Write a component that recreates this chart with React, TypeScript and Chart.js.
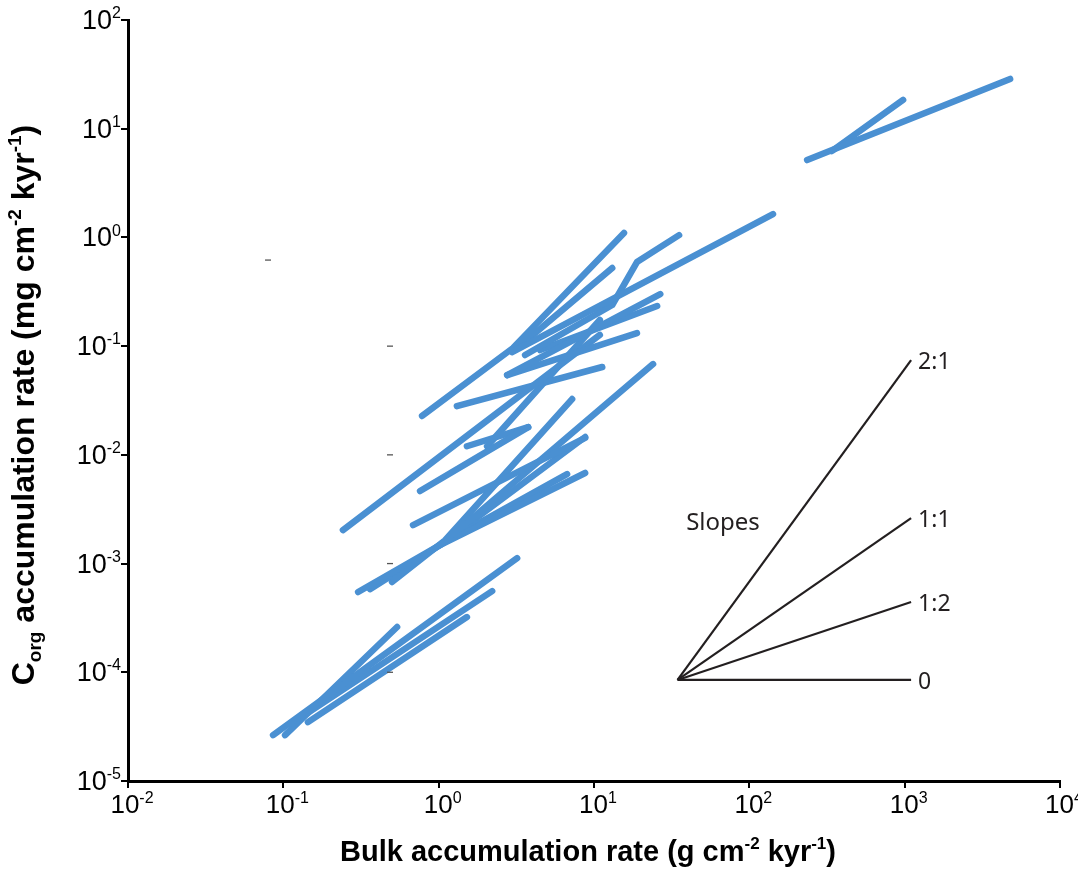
import React, { useEffect, useRef } from "react";
import { Chart, registerables } from "chart.js";

Chart.register(...registerables);

// ---- axis ticks ----
const xTickValues = [1e-2, 1e-1, 1, 10, 100, 1e3, 1e4];
const xTickExponents = ["-2", "-1", "0", "1", "2", "3", "4"];
const yTickValues = [1e-5, 1e-4, 1e-3, 1e-2, 1e-1, 1, 10, 100];
const yTickExponents = ["-5", "-4", "-3", "-2", "-1", "0", "1", "2"];

// ---- core records: bulk accumulation rate (g cm-2 kyr-1) per segment vertex ----
const segmentBulk: number[][] = [
  [235.5, 4775],
  [341, 977],
  [142, 2.97],
  [0.782, 3.01, 15.6],
  [35.3, 18.9, 13.1, 3.6],
  [13.1, 3.1],
  [26.7, 2.76],
  [25.5, 4.5],
  [18.9, 2.76],
  [0.242, 10.9],
  [1.31, 11.3],
  [0.684, 8.77],
  [0.759, 3.77],
  [1.07, 24.0],
  [0.501, 1.1, 7.23],
  [0.303, 1.02, 8.77],
  [0.361, 1.07, 6.71],
  [1.02, 8.77],
  [2.05, 10.9],
  [1.52, 3.77],
  [0.0859, 3.2],
  [0.1026, 0.54],
  [0.128, 2.21],
  [0.144, 1.52],
];

// ---- core records: Corg accumulation rate (mg cm-2 kyr-1) per segment vertex ----
const segmentCorg: number[][] = [
  [5.15, 28.7],
  [6.24, 18.4],
  [1.64, 0.0883],
  [0.0228, 0.0961, 1.1],
  [1.05, 0.594, 0.239, 0.0828],
  [0.523, 0.0921],
  [0.301, 0.0542],
  [0.234, 0.0921],
  [0.132, 0.0542],
  [0.00203, 0.127],
  [0.0281, 0.0643],
  [0.00226, 0.0143],
  [0.00465, 0.018],
  [0.00155, 0.0684],
  [0.000676, 0.00164, 0.0326],
  [0.000547, 0.00148, 0.00681],
  [0.000582, 0.00155, 0.00665],
  [0.00148, 0.0146],
  [0.012, 0.174],
  [0.012, 0.018],
  [2.64e-5, 0.00112],
  [2.64e-5, 0.000261],
  [3.79e-5, 0.000558],
  [3.48e-5, 0.000322],
];

// ---- slope key ----
const slopeNames = ["2:1", "1:1", "1:2", "0"];
const slopeOriginBulk = 34.5;
const slopeOriginCorg = 8.5e-5;
const slopeEndBulk = [1100, 1100, 1100, 1100];
const slopeEndCorg = [0.0745, 0.00262, 0.000443, 8.5e-5];
const slopeTitle = "Slopes";
const slopeTitleBulk = 39.2;
const slopeTitleCorg = 0.00246;

// ---- small stray dash marks ----
const dashBulk = [0.0797, 0.486, 0.486, 0.486, 0.486];
const dashCorg = [0.619, 0.1, 0.01, 0.001, 0.0001];

const BLUE = "#4A90D2";
const INK = "#231f20";

type Run = { t: string; k?: "sup" | "sub" };

function drawRich(
  ctx: CanvasRenderingContext2D,
  runs: Run[],
  x: number,
  y: number,
  o: { size: number; bold?: boolean; family: string; align: "left" | "center" | "right"; rotate?: boolean; stretch?: number; color?: string }
) {
  const fontFor = (k?: string) =>
    `${o.bold ? "bold " : ""}${k ? Math.round(o.size * 0.6) : o.size}px ${o.family}`;
  let total = 0;
  const widths = runs.map((r) => {
    ctx.font = fontFor(r.k);
    const w = ctx.measureText(r.t).width;
    total += w;
    return w;
  });
  ctx.save();
  ctx.translate(x, y);
  if (o.rotate) ctx.rotate(-Math.PI / 2);
  ctx.scale(o.stretch ?? 1, 1);
  ctx.fillStyle = o.color ?? "#000";
  ctx.textBaseline = "alphabetic";
  ctx.textAlign = "left";
  let cx = o.align === "center" ? -total / 2 : o.align === "right" ? -total : 0;
  runs.forEach((r, i) => {
    ctx.font = fontFor(r.k);
    const dy = r.k === "sup" ? -o.size * 0.4 : r.k === "sub" ? o.size * 0.22 : 0;
    ctx.fillText(r.t, cx, dy);
    cx += widths[i];
  });
  ctx.restore();
}

const textPlugin = {
  id: "richText",
  afterDraw(chart: any) {
    const ctx: CanvasRenderingContext2D = chart.ctx;
    const xs = chart.scales.x;
    const ys = chart.scales.y;
    const fam = "'Liberation Sans', Arial, sans-serif";
    // tick labels
    xTickValues.forEach((v, i) => {
      const px = xs.getPixelForValue(v);
      drawRich(ctx, [{ t: "10" }, { t: xTickExponents[i], k: "sup" }], px + 4, 813, {
        size: 26,
        family: fam,
        align: "center",
      });
    });
    yTickValues.forEach((v, i) => {
      const py = ys.getPixelForValue(v);
      drawRich(ctx, [{ t: "10" }, { t: yTickExponents[i], k: "sup" }], 121, py + 9, {
        size: 27,
        family: fam,
        align: "right",
      });
    });
    // axis titles
    drawRich(
      ctx,
      [
        { t: "Bulk accumulation rate (g cm" },
        { t: "-2", k: "sup" },
        { t: " kyr" },
        { t: "-1", k: "sup" },
        { t: ")" },
      ],
      588,
      861,
      { size: 29, bold: true, family: fam, align: "center" }
    );
    drawRich(
      ctx,
      [
        { t: "C" },
        { t: "org", k: "sub" },
        { t: " accumulation rate (mg cm" },
        { t: "-2", k: "sup" },
        { t: " kyr" },
        { t: "-1", k: "sup" },
        { t: ")" },
      ],
      34,
      405,
      { size: 32, bold: true, family: fam, align: "center", rotate: true }
    );
    // slope key labels
    const kfam = "'Noto Sans', 'Open Sans', sans-serif";
    slopeNames.forEach((n, i) => {
      const px = xs.getPixelForValue(slopeEndBulk[i]);
      const py = ys.getPixelForValue(slopeEndCorg[i]);
      drawRich(ctx, [{ t: n }], px + 7, py + 9, { size: 23, family: kfam, align: "left", color: INK });
    });
    drawRich(
      ctx,
      [{ t: slopeTitle }],
      xs.getPixelForValue(slopeTitleBulk),
      ys.getPixelForValue(slopeTitleCorg) + 9,
      { size: 24, family: kfam, align: "left", color: INK }
    );
  },
};

export default function App() {
  const ref = useRef<HTMLCanvasElement | null>(null);
  useEffect(() => {
    if (!ref.current) return;
    const slopeSets = slopeNames.map((n, i) => ({
      label: "slope " + n,
      data: [
        { x: slopeOriginBulk, y: slopeOriginCorg },
        { x: slopeEndBulk[i], y: slopeEndCorg[i] },
      ],
      showLine: true,
      borderColor: INK,
      borderWidth: 2.2,
      pointRadius: 0,
      borderCapStyle: "butt" as const,
    }));
    const segSets = segmentBulk.map((xsArr, i) => ({
      label: "core " + (i + 1),
      data: xsArr.map((x, j) => ({ x, y: segmentCorg[i][j] })),
      showLine: true,
      borderColor: BLUE,
      borderWidth: 6.5,
      pointRadius: 0,
      borderCapStyle: "round" as const,
      borderJoinStyle: "round" as const,
    }));
    const dashSet = {
      label: "marks",
      data: dashBulk.map((x, i) => ({ x, y: dashCorg[i] })),
      showLine: false,
      pointStyle: "line" as const,
      pointRadius: 3,
      borderColor: "#555",
      backgroundColor: "#555",
      pointBorderWidth: 1.3,
    };
    const axisCommon = {
      type: "logarithmic" as const,
      ticks: { display: false },
      grid: {
        display: true,
        drawOnChartArea: false,
        drawTicks: true,
        tickLength: 7,
        color: "#000",
        lineWidth: 2,
      },
      border: { display: true, color: "#000", width: 3 },
    };
    const chart = new Chart(ref.current, {
      type: "scatter",
      data: { datasets: [...slopeSets, dashSet, ...segSets] as any },
      options: {
        responsive: false,
        animation: false,
        layout: { padding: { top: 20, right: 18, left: 0, bottom: 0 } },
        plugins: { legend: { display: false }, tooltip: { enabled: false } },
        scales: {
          x: {
            ...axisCommon,
            min: 0.01,
            max: 10000,
            afterBuildTicks: (s: any) => {
              s.ticks = xTickValues.map((v) => ({ value: v }));
            },
            afterFit: (s: any) => {
              s.height = 95;
            },
          },
          y: {
            ...axisCommon,
            min: 1e-5,
            max: 100,
            afterBuildTicks: (s: any) => {
              s.ticks = yTickValues.map((v) => ({ value: v }));
            },
            afterFit: (s: any) => {
              s.width = 128;
            },
          },
        } as any,
      },
      plugins: [textPlugin],
    });
    return () => chart.destroy();
  }, []);
  return (
    <div style={{ position: "fixed", left: 0, top: 0, width: 1078, height: 876, background: "#fff" }}>
      <canvas ref={ref} width={1078} height={876} style={{ display: "block" }} />
    </div>
  );
}
